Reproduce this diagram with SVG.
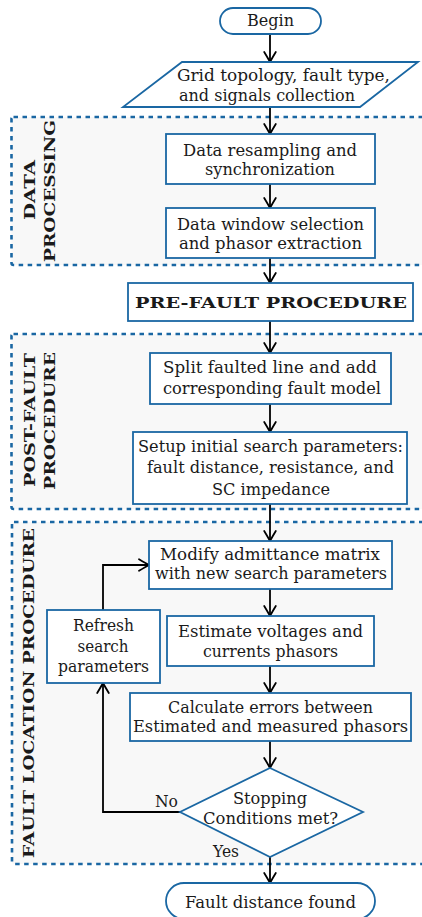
<svg xmlns="http://www.w3.org/2000/svg" width="422" height="917" viewBox="0 0 422 917">
<defs>
<style>
.n{fill:#ffffff;stroke:#1a67a3;stroke-width:1.8}
.g{fill:#f8f8f8;stroke:#1a67a3;stroke-width:2.6;stroke-dasharray:4.5 4.5}
text{font-family:'DejaVu Serif','Liberation Serif',serif}
.t{font-size:16px;fill:#1a1a1a;text-anchor:middle}
.s{text-anchor:start}
.b{font-size:15px;font-weight:bold;fill:#1a1a1a;text-anchor:middle}
.c{fill:none;stroke:#000;stroke-width:1.8}
</style>
<marker id="ah" viewBox="-12 -8 14 16" refX="0" refY="0" markerWidth="14" markerHeight="16" markerUnits="userSpaceOnUse" orient="auto" overflow="visible">
<path d="M-10,-5.8 Q-3,-1.6 0,0 Q-3,1.6 -10,5.8" fill="none" stroke="#000" stroke-width="1.8" stroke-linecap="round"/>
</marker>
</defs>
<rect width="422" height="917" fill="#ffffff"/>
<g id="group-data-processing">
<rect class="g" x="11.5" y="117" width="420" height="148" rx="2"/>
<text class="b" transform="translate(35,190) rotate(-90)" textLength="60" lengthAdjust="spacingAndGlyphs">DATA</text>
<text class="b" transform="translate(55,191) rotate(-90)" textLength="142" lengthAdjust="spacingAndGlyphs">PROCESSING</text>
</g>
<g id="group-post-fault">
<rect class="g" x="11.5" y="334" width="420" height="175" rx="2"/>
<text class="b" transform="translate(35,420) rotate(-90)" textLength="134" lengthAdjust="spacingAndGlyphs">POST-FAULT</text>
<text class="b" transform="translate(55,421) rotate(-90)" textLength="138" lengthAdjust="spacingAndGlyphs">PROCEDURE</text>
</g>
<g id="group-fault-location">
<rect class="g" x="12" y="522" width="420" height="342" rx="2"/>
<text class="b" transform="translate(34,693) rotate(-90)" textLength="330" lengthAdjust="spacingAndGlyphs">FAULT LOCATION PROCEDURE</text>
</g>

<g id="connectors">
<line class="c" x1="270" y1="34" x2="270" y2="62" marker-end="url(#ah)"/>
<line class="c" x1="270" y1="107" x2="270" y2="134" marker-end="url(#ah)"/>
<line class="c" x1="270" y1="184" x2="270" y2="208" marker-end="url(#ah)"/>
<line class="c" x1="270" y1="258" x2="270" y2="283" marker-end="url(#ah)"/>
<line class="c" x1="270" y1="321" x2="270" y2="353" marker-end="url(#ah)"/>
<line class="c" x1="270" y1="404" x2="270" y2="432" marker-end="url(#ah)"/>
<line class="c" x1="270" y1="504" x2="270" y2="541" marker-end="url(#ah)"/>
<line class="c" x1="270" y1="589" x2="270" y2="616" marker-end="url(#ah)"/>
<line class="c" x1="270" y1="666" x2="270" y2="693" marker-end="url(#ah)"/>
<line class="c" x1="270" y1="741" x2="270" y2="768" marker-end="url(#ah)"/>
<line class="c" x1="270" y1="857" x2="270" y2="883" marker-end="url(#ah)"/>
<polyline class="c" points="180,812 103,812 103,683" marker-end="url(#ah)"/>
<polyline class="c" points="103,610 103,565 149,565" marker-end="url(#ah)"/>
<text class="t" x="166.5" y="807" textLength="23" lengthAdjust="spacingAndGlyphs">No</text>
<text class="t" x="226" y="857" textLength="26" lengthAdjust="spacingAndGlyphs">Yes</text>
</g>

<g id="begin">
<rect class="n" x="220" y="8" width="101" height="26" rx="13"/>
<text class="t" x="270.5" y="26" textLength="47" lengthAdjust="spacingAndGlyphs">Begin</text>
</g>
<g id="input">
<polygon class="n" points="182,62 418,62 360,107 123,107"/>
<text class="t s" x="177" y="81" textLength="213" lengthAdjust="spacingAndGlyphs">Grid topology, fault type,</text>
<text class="t s" x="179" y="101" textLength="176" lengthAdjust="spacingAndGlyphs">and signals collection</text>
</g>
<g id="resampling">
<rect class="n" x="166" y="134" width="209" height="50"/>
<text class="t" x="270" y="156" textLength="174" lengthAdjust="spacingAndGlyphs">Data resampling and</text>
<text class="t" x="270" y="175" textLength="130" lengthAdjust="spacingAndGlyphs">synchronization</text>
</g>
<g id="window">
<rect class="n" x="166" y="208" width="209" height="50"/>
<text class="t" x="270.5" y="230" textLength="187" lengthAdjust="spacingAndGlyphs">Data window selection</text>
<text class="t" x="270.5" y="249" textLength="183" lengthAdjust="spacingAndGlyphs">and phasor extraction</text>
</g>
<g id="prefault">
<rect class="n" x="128" y="283" width="285" height="38"/>
<text class="b" x="271" y="308" textLength="272" lengthAdjust="spacingAndGlyphs">PRE-FAULT PROCEDURE</text>
</g>
<g id="split">
<rect class="n" x="150" y="353" width="241" height="51"/>
<text class="t" x="270" y="373" textLength="214" lengthAdjust="spacingAndGlyphs">Split faulted line and add</text>
<text class="t" x="272" y="394" textLength="218" lengthAdjust="spacingAndGlyphs">corresponding fault model</text>
</g>
<g id="setup">
<rect class="n" x="133" y="432" width="274" height="72"/>
<text class="t" x="270.5" y="452" textLength="265" lengthAdjust="spacingAndGlyphs">Setup initial search parameters:</text>
<text class="t" x="270.5" y="473" textLength="247" lengthAdjust="spacingAndGlyphs">fault distance, resistance, and</text>
<text class="t" x="271" y="495" textLength="118" lengthAdjust="spacingAndGlyphs">SC impedance</text>
</g>
<g id="modify">
<rect class="n" x="149" y="541" width="243" height="48"/>
<text class="t" x="270" y="560" textLength="220" lengthAdjust="spacingAndGlyphs">Modify admittance matrix</text>
<text class="t" x="271" y="579" textLength="232" lengthAdjust="spacingAndGlyphs">with new search parameters</text>
</g>
<g id="refresh">
<rect class="n" x="47" y="610" width="113" height="73"/>
<text class="t" x="103.5" y="631" textLength="61" lengthAdjust="spacingAndGlyphs">Refresh</text>
<text class="t" x="103" y="652" textLength="51" lengthAdjust="spacingAndGlyphs">search</text>
<text class="t" x="103.5" y="672" textLength="91" lengthAdjust="spacingAndGlyphs">parameters</text>
</g>
<g id="estimate">
<rect class="n" x="167" y="616" width="207" height="50"/>
<text class="t" x="270.5" y="637" textLength="185" lengthAdjust="spacingAndGlyphs">Estimate voltages and</text>
<text class="t" x="270.5" y="657" textLength="135" lengthAdjust="spacingAndGlyphs">currents phasors</text>
</g>
<g id="calculate">
<rect class="n" x="130" y="693" width="281" height="48"/>
<text class="t" x="270.5" y="713" textLength="205" lengthAdjust="spacingAndGlyphs">Calculate errors between</text>
<text class="t" x="270.5" y="732" textLength="275" lengthAdjust="spacingAndGlyphs">Estimated and measured phasors</text>
</g>
<g id="decision">
<polygon class="n" points="270,768 363,812 270,857 180,812"/>
<text class="t" x="270" y="804" textLength="74" lengthAdjust="spacingAndGlyphs">Stopping</text>
<text class="t" x="270.5" y="824" textLength="135" lengthAdjust="spacingAndGlyphs">Conditions met?</text>
</g>
<g id="end">
<rect class="n" x="166" y="883" width="209" height="36" rx="18"/>
<text class="t" x="270.5" y="908" textLength="171" lengthAdjust="spacingAndGlyphs">Fault distance found</text>
</g>
</svg>
